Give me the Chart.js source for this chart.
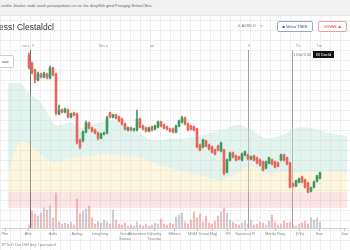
<!DOCTYPE html>
<html>
<head>
<meta charset="utf-8">
<script src="https://cdn.jsdelivr.net/npm/chart.js@4.4.1/dist/chart.umd.min.js"></script>
<style>
  html, body { margin: 0; padding: 0; }
  body {
    width: 350px; height: 250px; overflow: hidden; position: relative;
    font-family: "Liberation Sans", Arial, sans-serif;
    background-color: #fff;
    background-image: linear-gradient(#eeeeee 1px, transparent 1px), linear-gradient(90deg, #eeeeee 1px, transparent 1px);
    background-size: 10px 10px;
  }
  #banner { position: absolute; left: 0; top: 0; width: 350px; height: 15px; background: #f1f1f1; border-bottom: 1px solid #e6e6e6; }
  #banner span { position: absolute; left: -2px; top: 3px; font-size: 4px; color: #666; white-space: nowrap; }
  #title { position: absolute; left: -1px; top: 22px; font-size: 8.5px; color: #333; white-space: nowrap; }
  #tag { position: absolute; left: 238px; top: 23px; font-size: 4px; color: #777; white-space: nowrap; }
  #tag span { margin-left: 4px; }
  .btn { position: absolute; top: 21px; height: 9px; line-height: 9px; font-size: 4px; border-radius: 2px; background: #fff; text-align: center; white-space: nowrap; }
  .blue { left: 277px; width: 34px; border: 1px solid #9aa6c8; color: #3b4a7a; }
  .red { left: 318px; width: 27px; border: 1px solid #eaa0a0; color: #d9534f; }
  #ave { position: absolute; left: -3px; top: 55px; width: 15px; height: 11px; line-height: 11px; border: 1px solid #cfcfcf; border-radius: 2px; background: #fff; font-size: 4px; color: #444; text-align: center; }
  #tip { position: absolute; left: 293px; top: 52px; font-size: 4px; white-space: nowrap; }
  #tip span { color: #777; margin-right: 2px; }
  #tip b { font-weight: normal; background: #111; color: #fff; padding: 1px 3px; }
  #foot { position: absolute; left: 1px; top: 242px; font-size: 4px; color: #888; white-space: nowrap; }
  #wrap { position: absolute; left: 0; top: 0; width: 350px; height: 250px; }
</style>
</head>
<body>
<div id="banner"><span>g snithe Jinalan sode ooxih pesanpotions ce an the daspfhih gmd Prangng Sritinel Bex.</span></div>
<div id="wrap"><canvas id="chart"></canvas></div>
<div id="title">ess! Clestaldcl</div>
<div id="tag">6·A0SD·D<span>×</span></div>
<div class="btn blue">■ Veleo TNEE</div>
<div class="btn red">MWAB ⛰</div>
<div id="ave">ave</div>
<div id="tip"><span>1 Dle/3.30</span><b>Bl Docld</b></div>
<div id="foot">1PTo D Dia DEI dey l parraeed</div>
<script>
// sessions (day index on the time axis)
const firstSession = 9;
const openPrice  = [173,165,158,148,154,151,154,150,160,154,114,118,116,118,111,115,114,88,88,96,105,100,98,95,90,94,95,115,111,113,111,109,104,98,100,98,98,109,102,100,97,101,99,101,106,103,101,99,99,96,102,106,110,104,102,101,99,83,81,87,83,81,78,82,77,78,56,68,75,72,71,68,73,73,69,72,70,68,66,60,65,68,66,65,68,73,70,65,44,42,46,51,48,45,37,41,47,50];
const closePrice = [161,156,148,154,151,154,151,160,153,115,118,116,119,111,114,113,86,81,96,105,100,97,95,90,94,95,110,111,113,110,107,104,99,100,98,99,109,101,99,97,100,98,102,106,102,100,99,97,96,102,107,110,104,98,99,98,81,78,88,82,79,76,74,78,85,55,68,75,71,68,69,74,76,69,71,68,65,63,58,66,70,64,61,62,73,68,64,41,42,47,49,46,41,36,40,46,52,55];
const highPrice  = [175,166,159,156,155,156,155,162,161,155,123,119,120,119,115,116,115,89,97,107,106,101,99,96,95,96,112,116,114,114,112,110,105,101,101,100,118,110,103,101,101,102,103,107,107,104,102,100,100,103,108,112,111,105,103,102,100,84,89,88,84,82,79,83,86,79,69,76,76,73,72,75,77,74,72,73,71,69,67,67,71,69,67,66,74,74,71,66,45,48,50,52,49,46,41,47,53,56];
const lowPrice   = [159,154,145,147,150,150,149,149,152,113,113,115,115,110,110,112,84,79,86,95,99,96,94,88,89,93,94,110,110,109,106,103,98,97,97,97,97,100,98,96,96,97,98,100,101,99,98,96,95,95,101,105,103,97,98,97,80,77,80,81,78,75,73,77,76,53,55,67,70,67,68,67,72,68,68,67,64,62,57,59,64,63,60,61,67,67,63,40,41,41,45,45,40,35,36,40,46,49];
const volume     = [15,85,70,60,75,100,90,110,50,175,30,20,25,20,30,15,145,70,85,95,110,50,20,30,25,40,30,20,90,40,20,15,25,10,15,10,30,15,10,20,10,15,25,20,45,20,15,25,20,55,65,75,30,20,40,80,50,70,30,60,25,20,35,60,80,100,75,40,30,20,15,25,35,20,40,15,20,30,25,15,35,65,30,15,20,35,25,30,15,10,20,25,35,20,50,40,50,30];
const sessions = openPrice.map((_, k) => firstSession + k);

// shaded zones (upper edge of green, green/yellow edge, red zone)
const zoneAt      = [2,6,9,13,16,18,23,26,33,39,46,50,56,62,68,73,79,83,88,93,100,109,115];
const greenTop    = [145,145,135,125,111,103,105,100,106,106,95,88,89,90,94,98,103,98,90,93,101,95,92];
const yellowTop   = [56,86,83,73,67,66,70,71,73,73,70,66,60,56,51,48,56,62,55,56,56,56,56];
const redTop = 36;
const redBottom = 20;

// x axis labels
const tickAt   = [1, 8.7, 17, 25, 32.7, 41, 45, 50.7, 57.5, 65.3, 70.3, 75.3, 81, 91, 99.3, 105.7, 114.3];
const tickText = ['Pbe','Atlo','Adls','Aoilng','Ivlnglong',['Gone','Sowas'],'Abnewlow',['Valoolry','Tvaiutar'],'Mbloct','MGM Doao','(Mig)','IPI','Sjoctoad R','Martlo Roiy','(Vib)','Sae','Sep'];

// event markers
const eventAt = [9.33, 82, 96.67];
const eventColor = ['#6e6e78', '#a09eb0', '#a09eb0'];
const topLabelAt = [8.7, 33.7, 50, 82.3, 98.7, 105.7];
const topLabels = ['sorc. 9', 'Tim a', 'ior', '9', 'Tn', 'Tm'];

const up = openPrice.map((o, k) => closePrice[k] >= o);
const candleColor = up.map(u => u ? '#3f9a62' : '#e5685c');
const volColor = up.map(u => u ? 'rgba(165,165,180,0.55)' : 'rgba(238,140,140,0.6)');

const zone = vals => zoneAt.map((x, k) => ({x: x, y: Array.isArray(vals) ? vals[k] : vals}));

const markerPlugin = {
  id: 'markers',
  beforeDatasetsDraw(chart) {
    const {ctx, chartArea, scales} = chart;
    ctx.save();
    eventAt.forEach((d, k) => {
      const x = Math.round(scales.x.getPixelForValue(d)) + 0.5;
      ctx.strokeStyle = eventColor[k];
      ctx.lineWidth = 1;
      ctx.beginPath();
      ctx.moveTo(x, chartArea.top + 2);
      ctx.lineTo(x, chartArea.bottom);
      ctx.stroke();
    });
    ctx.font = '4px "Liberation Sans", Arial';
    ctx.fillStyle = '#9a9a9a';
    ctx.textAlign = 'center';
    topLabels.forEach((t, k) => ctx.fillText(t, scales.x.getPixelForValue(topLabelAt[k]), chartArea.top - 1));
    ctx.restore();
  }
};

Chart.defaults.font.family = '"Liberation Sans", Arial, sans-serif';

new Chart(document.getElementById('chart'), {
  type: 'bar',
  data: {
    datasets: [
      { type: 'line', data: zone(greenTop), fill: '+1', backgroundColor: 'rgba(190,230,215,0.45)', borderColor: 'transparent', borderWidth: 0, pointRadius: 0, tension: 0.4, order: 10 },
      { type: 'line', data: zone(yellowTop), fill: '+1', backgroundColor: 'rgba(245,228,160,0.35)', borderColor: 'transparent', borderWidth: 0, pointRadius: 0, tension: 0.4, order: 11 },
      { type: 'line', data: zone(redTop), fill: '+1', backgroundColor: 'rgba(240,150,150,0.25)', borderColor: 'transparent', borderWidth: 0, pointRadius: 0, tension: 0, order: 12 },
      { type: 'line', data: zone(redBottom), fill: false, borderColor: 'transparent', borderWidth: 0, pointRadius: 0, order: 13 },
      { data: sessions.map((s, k) => ({x: s, y: volume[k]})), yAxisID: 'y2', backgroundColor: volColor, barThickness: 1.5, grouped: false, order: 5 },
      { data: sessions.map((s, k) => ({x: s, y: [lowPrice[k], highPrice[k]]})), backgroundColor: candleColor, barThickness: 1, grouped: false, order: 1 },
      { data: sessions.map((s, k) => ({x: s, y: [openPrice[k], closePrice[k]]})), backgroundColor: candleColor, barThickness: 2, grouped: false, order: 0 }
    ]
  },
  options: {
    responsive: true,
    maintainAspectRatio: false,
    animation: false,
    layout: { padding: { top: 48, left: 2, right: 3, bottom: 2 } },
    plugins: { legend: { display: false }, tooltip: { enabled: false } },
    scales: {
      x: {
        type: 'linear', min: 0, max: 115, offset: false,
        afterBuildTicks: scale => { scale.ticks = tickAt.map(v => ({value: v})); },
        afterFit: scale => { scale.height = 20; },
        ticks: { autoSkip: false, maxRotation: 0, padding: 1, font: { size: 4, lineHeight: 1.1 }, color: '#8a8a8a', callback: (v, i) => tickText[i] },
        grid: { drawOnChartArea: false, tickLength: 3, color: '#c4c4c4', offset: false },
        border: { color: '#cfcfcf' }
      },
      y: { display: false, min: 0, max: 180 },
      y2: { display: false, min: 0, max: 900 }
    }
  },
  plugins: [markerPlugin]
});
</script>
</body>
</html>
